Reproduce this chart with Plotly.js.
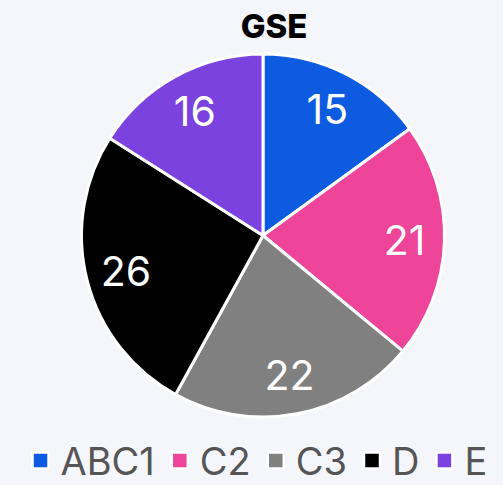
<!DOCTYPE html>
<html><head><meta charset="utf-8">
<script src="https://cdn.plot.ly/plotly-3.0.1.min.js"></script>
<style>html,body{margin:0;padding:0;background:#f5f6fb;}</style>
</head><body>
<div id="chart" style="width:503px;height:485px;"></div>
<script>
const categories = ["ABC1", "C2", "C3", "D", "E"];
const values = [15, 21, 22, 26, 16];
const colors = ["#0d5be1", "#ee4499", "#808080", "#000000", "#7b42e0"];

const pieBase = {
  type: "pie",
  labels: categories,
  values: values,
  sort: false,
  direction: "clockwise",
  rotation: 0,
  showlegend: false
};

const traces = [
  Object.assign({}, pieBase, {
    marker: {colors: colors, line: {color: "#ffffff", width: 3}},
    textinfo: "none",
    hoverinfo: "label+value"
  }),
  Object.assign({}, pieBase, {
    hole: 0.56,
    marker: {colors: categories.map(() => "rgba(0,0,0,0)"), line: {width: 0}},
    textinfo: "value",
    textposition: "inside",
    insidetextorientation: "horizontal",
    insidetextfont: {color: "#ffffff", size: 41, family: "Inter"},
    hoverinfo: "skip"
  })
];

categories.forEach((c, i) => {
  traces.push({
    type: "scatter", mode: "markers", x: [null], y: [null], name: c,
    marker: {symbol: "square", size: 16, color: colors[i], line: {color: "#ffffff", width: 2.5}},
    showlegend: true, hoverinfo: "skip"
  });
});

Plotly.newPlot("chart", traces, {
  width: 503, height: 485,
  paper_bgcolor: "#f5f6fb", plot_bgcolor: "#f5f6fb",
  margin: {t: 54, b: 68, l: 23, r: 0},
  xaxis: {visible: false}, yaxis: {visible: false},
  title: {text: "GSE", font: {family: "Inter", size: 33, weight: 800, color: "#000"}, x: 0.545, xanchor: "center", y: 0.945, yanchor: "middle"},
  showlegend: true,
  legend: {orientation: "h", x: 0.51, xref: "container", xanchor: "center", y: 0.05, yref: "container", yanchor: "middle",
    itemsizing: "trace", font: {family: "Inter", size: 38, color: "#555555"}, bgcolor: "rgba(0,0,0,0)"}
}, {displayModeBar: false});
</script>
</body></html>
